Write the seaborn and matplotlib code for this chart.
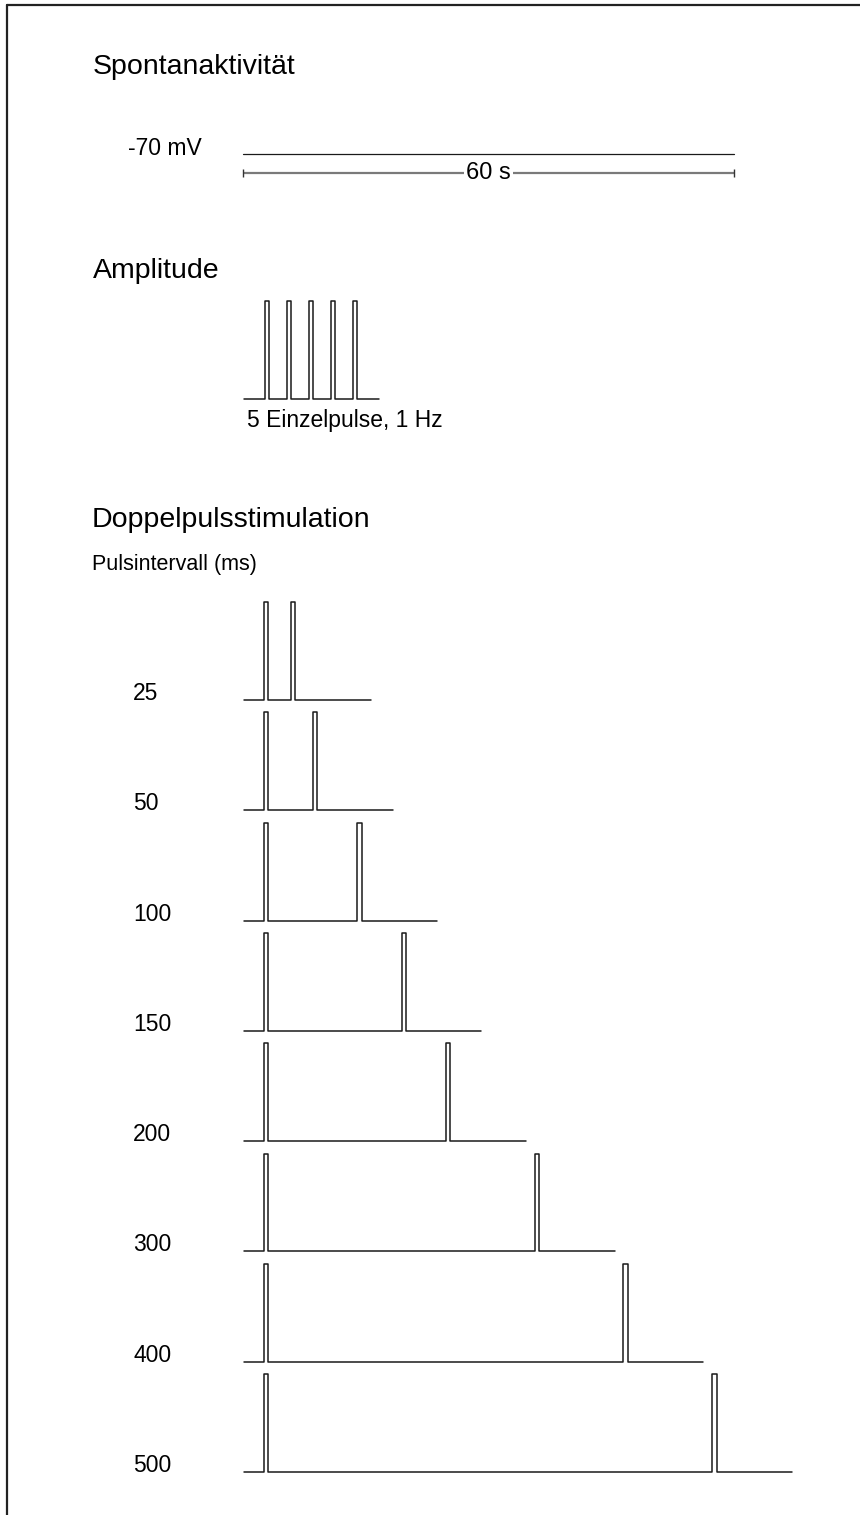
import matplotlib
matplotlib.use("Agg")
import matplotlib.pyplot as plt
import matplotlib.transforms as mtransforms
from matplotlib.lines import Line2D
import numpy as np
import pandas as pd
import seaborn as sns

# --- data
section_titles = ["Spontanaktivität", "Amplitude", "Doppelpulsstimulation"]
rest_potential_mv = -70
spont_duration_s = 60
amp_pulse_times_s = [0, 1, 2, 3, 4]
amp_pulse_width_s = 0.2
amp_trace_range_s = [-0.95, 5.2]
pair_intervals_ms = [25, 50, 100, 150, 200, 300, 400, 500]
pair_pulse_width_ms = 5
pair_pre_ms = 22
pair_post_ms = 90

W, H = 860, 1515


def fx(p):
    return p / W


def fy(p):
    return 1 - p / H


def pulse_trace(onsets, width, start, end, amp=1.0):
    t, v = [start], [0]
    for o in onsets:
        t += [o, o, o + width, o + width]
        v += [0, amp, amp, 0]
    t.append(end)
    v.append(0)
    return t, v


sns.set_theme(style="white")
plt.rcParams["font.family"] = ["Liberation Sans", "DejaVu Sans"]
plt.rcParams["text.color"] = "black"

fig = plt.figure(figsize=(W / 100, H / 100), dpi=100)
trace_col = "#1a1a1a"

# frame (only top and left edges visible)
fig.add_artist(Line2D([fx(7), fx(7)], [fy(5), 0], color="#222222", lw=1.6))
fig.add_artist(Line2D([fx(7), 1], [fy(5), fy(5)], color="#222222", lw=1.6))

# --- Spontanaktivität
fig.text(fx(93), fy(74), section_titles[0], fontsize=20.5, va="baseline")
ax1 = fig.add_axes([fx(200), fy(190), fx(600), 60 / H])
ax1.set_xlim(-5.25, 68.07)
ax1.set_ylim(-73.79, -67.47)
ax1.set_axis_off()
spont = pd.DataFrame({"t": [0, spont_duration_s],
                      "v": [rest_potential_mv, rest_potential_mv]})
sns.lineplot(data=spont, x="t", y="v", color=trace_col, lw=0.9, ax=ax1)
bar_y = rest_potential_mv - 2
ax1.plot([0, spont_duration_s], [bar_y, bar_y], color="#7a7a7a", lw=1.6,
         solid_capstyle="butt")
ax1.plot([0, spont_duration_s], [bar_y, bar_y], ls="none", marker="|",
         ms=6, mew=1.0, color="#333333")
ax1.text(spont_duration_s / 2, bar_y, f"{spont_duration_s} s", fontsize=17,
         ha="center", va="center",
         bbox=dict(facecolor="white", edgecolor="none", pad=1.5))
fig.text(fx(128), fy(155), f"{rest_potential_mv} mV", fontsize=16.5,
         va="baseline")

# --- Amplitude
fig.text(fx(93), fy(278), section_titles[1], fontsize=20.5, va="baseline")
ax2 = fig.add_axes([fx(200), fy(440), fx(300), 160 / H])
ax2.set_xlim(-2.955, 10.68)
ax2.set_ylim(-0.418, 1.214)
ax2.set_axis_off()
t, v = pulse_trace(amp_pulse_times_s, amp_pulse_width_s,
                   amp_trace_range_s[0], amp_trace_range_s[1])
amp_df = pd.DataFrame({"t": t, "v": v})
sns.lineplot(data=amp_df, x="t", y="v", sort=False, estimator=None,
             color=trace_col, lw=1.1, ax=ax2)
fig.text(fx(247), fy(427), f"{len(amp_pulse_times_s)} Einzelpulse, 1 Hz",
         fontsize=16.5, va="baseline")

# --- Doppelpulsstimulation
fig.text(fx(92), fy(527), section_titles[2], fontsize=20.5, va="baseline")
fig.text(fx(92), fy(570), "Pulsintervall (ms)", fontsize=15.5, va="baseline")
ax3 = fig.add_axes([fx(200), fy(1500), fx(660), 920 / H])
ax3.set_xlim(-72.1, 671.5)
ax3.set_ylim(-7.253, 1.088)
ax3.set_axis_off()
rows = []
for i, iv in enumerate(pair_intervals_ms):
    second = iv + pair_pulse_width_ms
    t, v = pulse_trace([0, second], pair_pulse_width_ms,
                       -pair_pre_ms, second + pair_post_ms, amp=0.888)
    rows.append(pd.DataFrame({"t": t, "v": np.array(v) - i, "row": i}))
pair_df = pd.concat(rows, ignore_index=True)
sns.lineplot(data=pair_df, x="t", y="v", units="row", estimator=None,
             sort=False, color=trace_col, lw=1.1, ax=ax3)
lab_tr = mtransforms.blended_transform_factory(fig.transFigure, ax3.transData)
for i, iv in enumerate(pair_intervals_ms):
    ax3.text(fx(133), -i, str(iv), fontsize=16.5, va="baseline",
             transform=lab_tr)

fig.savefig("out.png", dpi=100, facecolor="white")
